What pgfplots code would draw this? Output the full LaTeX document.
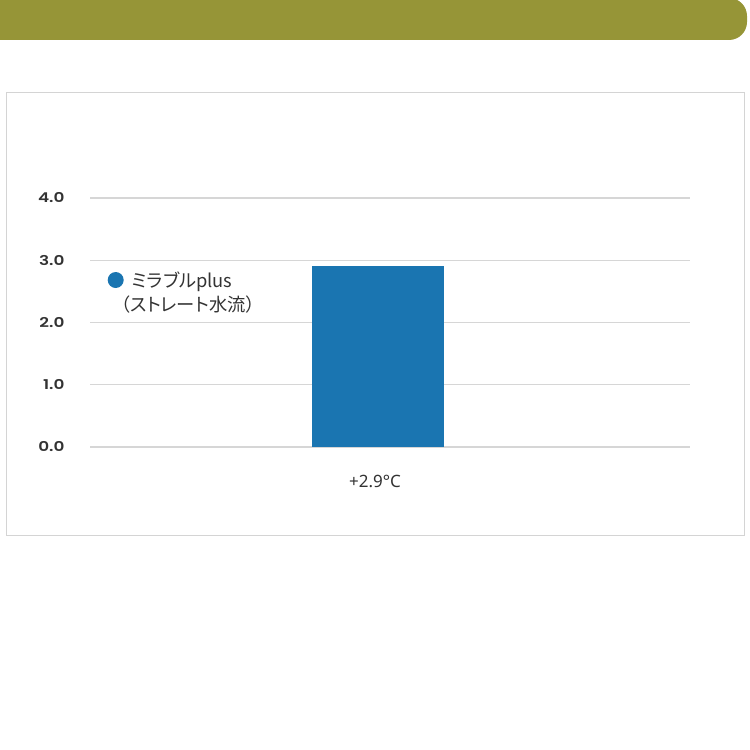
\documentclass[border=0pt]{standalone}
\usepackage{fontspec}
\setmainfont{Noto Sans}
\newfontfamily\cjk{Noto Sans CJK JP}[RawFeature=+palt]
\newfontfamily\tickfont{Poppins}[UprightFont=* SemiBold, FakeStretch=1.25]
\usepackage{pgfplots}
\pgfplotsset{compat=1.18}
\definecolor{banner}{HTML}{969537}
\definecolor{barblue}{HTML}{1A75B1}
\definecolor{gridgray}{HTML}{D6D6D6}
\definecolor{boxgray}{HTML}{D4D4D4}
\definecolor{txt}{HTML}{333333}
\begin{document}
\begin{tikzpicture}[x=1pt,y=1pt]
\useasboundingbox (0,0) rectangle (750,750);
% header band and frame
\fill[banner,rounded corners=18pt] (-40,710) rectangle (747,752);
\draw[boxgray,line width=1pt] (6,214) rectangle (744,657);
\begin{axis}[
    at={(90pt,303pt)}, anchor=south west,
    scale only axis, width=600pt, height=249pt,
    xmin=-0.96, xmax=1.04, ymin=0, ymax=4,
    axis line style={draw=none},
    major tick length=0pt,
    ymajorgrids, grid style={gridgray,line width=1.2pt},
    ytick={0,1,2,3,4},
    yticklabels={0.0,1.0,2.0,3.0,4.0},
    yticklabel style={font=\tickfont\fontsize{13.5}{13.5}\selectfont, text=txt, xshift=-22pt},
    xtick={0},
    xticklabels={+2.9°C},
    xticklabel style={font=\fontsize{17}{17}\selectfont, text=txt, xshift=-3pt, yshift=-25pt},
    legend style={draw=none, fill=none, at={(0.03,0.722)}, anchor=north west,
        font=\cjk\fontsize{18.3}{24.5}\selectfont, text=txt, cells={align=left},
        /tikz/every even column/.append style={column sep=0pt}},
    legend image code/.code={
        \fill[barblue, overlay] (-3.5pt,12.25pt) circle (8pt);
        \path[draw=none, fill=none] (-8pt,-2pt) rectangle (0pt,2pt);},
]
\addplot[ybar, fill=barblue, draw=none, bar width=132pt] coordinates {(0,2.9)};
\addlegendentry{\hspace*{11pt}ミラブルplus\\（ストレート水流）}
\end{axis}
\end{tikzpicture}
\end{document}
